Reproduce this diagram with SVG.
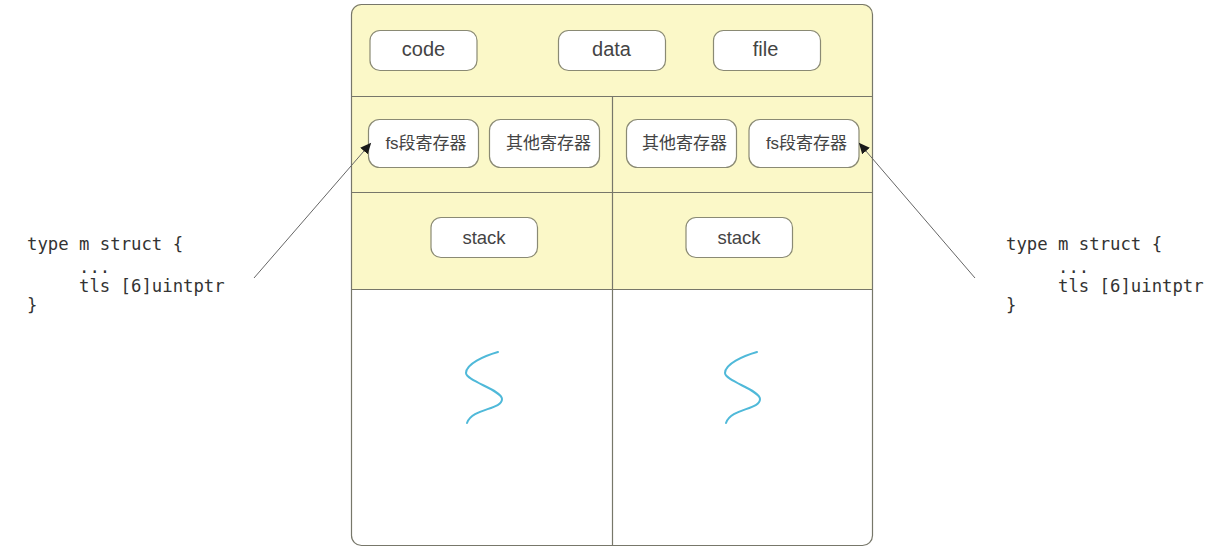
<svg xmlns="http://www.w3.org/2000/svg" width="1216" height="552" viewBox="0 0 1216 552">
<style>
.panel{fill:#fbf8c8;stroke:none}
.line{fill:none;stroke:#77776a;stroke-width:1.200}
.box{fill:#fff;stroke:#8a8a74;stroke-width:1.200}
.t{font-family:"Liberation Sans","Noto Sans CJK SC",sans-serif;fill:#444;text-anchor:middle}
.top{font-size:20px}
.reg{font-size:17px}
.st{font-size:18.500px}
.c{font-family:"DejaVu Sans Mono","Liberation Mono",monospace;font-size:17.300px;fill:#333}
.curl{fill:none;stroke:#4fb9d9;stroke-width:2;stroke-linecap:round}
.arrow{fill:none;stroke:#666;stroke-width:1;marker-end:url(#ah)}
</style>
<defs>
<marker id="ah" markerUnits="userSpaceOnUse" markerWidth="12" markerHeight="12" refX="10" refY="5" orient="auto"><path d="M0 0L11 5L0 10Z" fill="#1a1a1a"/></marker>
</defs>
<rect width="1216" height="552" fill="#fff"/>
<g id="process">
<path class="panel" d="M351 289V14a10 10 0 0 1 10-10H863a10 10 0 0 1 10 10V289Z"/>
<rect class="line" x="351.500" y="4.500" width="521" height="541" rx="10"/>
<path class="line" d="M351.500 96.500H872.500M351.500 192.500H872.500M351.500 289.500H872.500M612.500 96.500V545.500"/>
</g>
<g id="code"><rect class="box" x="370" y="30.500" width="107" height="40" rx="10"/><text class="t top" x="423.500" y="56">code</text></g>
<g id="data"><rect class="box" x="558.500" y="30.500" width="107" height="40" rx="10"/><text class="t top" x="611.500" y="56">data</text></g>
<g id="file"><rect class="box" x="713.500" y="30.500" width="107" height="40" rx="10"/><text class="t top" x="765.500" y="56">file</text></g>
<g id="fs-left"><rect class="box" x="368.500" y="119.500" width="110" height="48" rx="11"/><text class="t reg" x="426" y="149">fs段寄存器</text></g>
<g id="other-left"><rect class="box" x="489.500" y="119.500" width="110" height="48" rx="11"/><text class="t reg" x="548.500" y="149">其他寄存器</text></g>
<g id="other-right"><rect class="box" x="626.500" y="119.500" width="110" height="48" rx="11"/><text class="t reg" x="684.500" y="149">其他寄存器</text></g>
<g id="fs-right"><rect class="box" x="749" y="119.500" width="110" height="48" rx="11"/><text class="t reg" x="806.500" y="149">fs段寄存器</text></g>
<g id="stack-left"><rect class="box" x="431" y="217.500" width="106.500" height="40" rx="10"/><text class="t st" x="484" y="243.500">stack</text></g>
<g id="stack-right"><rect class="box" x="686" y="217.500" width="106.500" height="40" rx="10"/><text class="t st" x="739" y="243.500">stack</text></g>
<g id="thread-left"><path class="curl" d="M498 352C484 356 466 364 466 373C466 381 502 390 502 399C502 410 472 408 467 423"/></g>
<g id="thread-right"><path class="curl" d="M757 352C743 356 725 364 725 373C725 381 760 390 760 399C760 410 731 408 726 423"/></g>
<g id="struct-left"><text class="c" x="27" y="250">type m struct {</text><text class="c" x="79" y="273">...</text><text class="c" x="79" y="292">tls [6]uintptr</text><text class="c" x="27" y="311">}</text></g>
<g id="struct-right"><text class="c" x="1006" y="250">type m struct {</text><text class="c" x="1058" y="273">...</text><text class="c" x="1058" y="292">tls [6]uintptr</text><text class="c" x="1006" y="311">}</text></g>
<g id="connectors">
<path class="arrow" d="M254 278L370.500 143.500"/>
<path class="arrow" d="M975 278L859.500 143.500"/>
</g>
</svg>
